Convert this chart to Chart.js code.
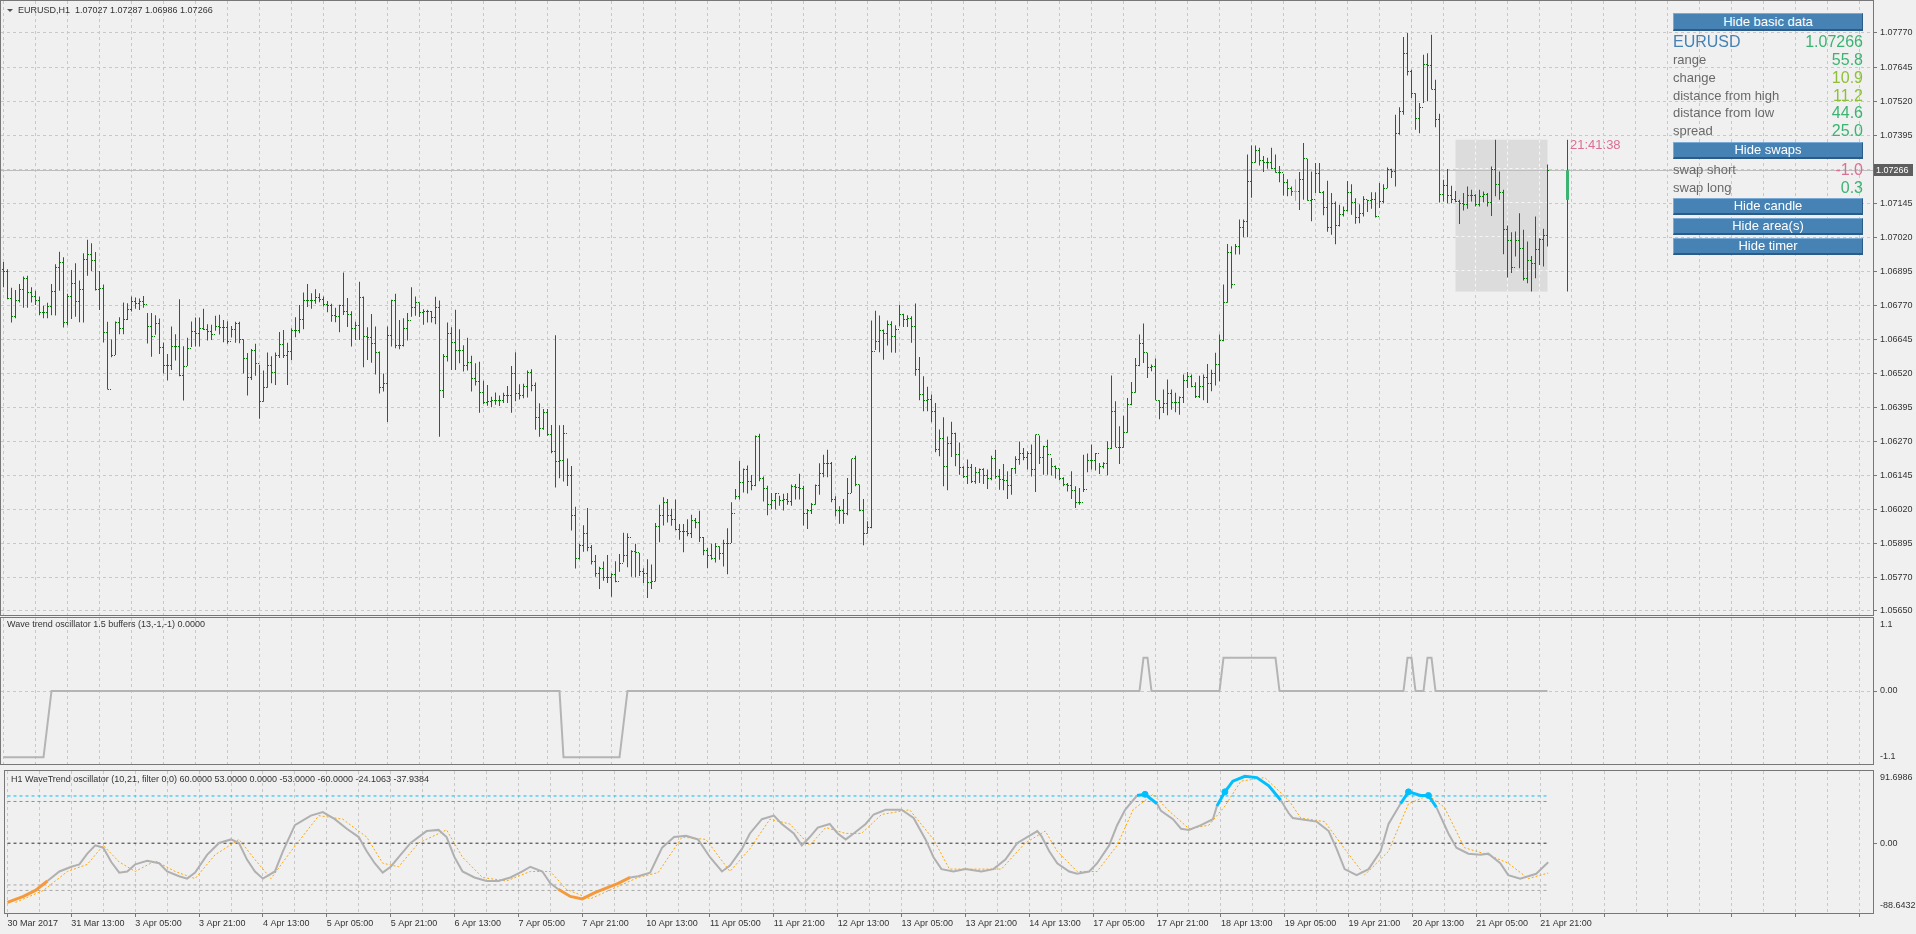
<!DOCTYPE html>
<html>
<head>
<meta charset="utf-8">
<script src="https://cdn.jsdelivr.net/npm/chart.js@4.4.1/dist/chart.umd.min.js"></script>
<style>
html, body { margin: 0; padding: 0; width: 1916px; height: 934px; overflow: hidden; background: #f0f0f0; font-family: 'Liberation Sans', Arial, sans-serif; }
canvas { position: absolute; left: 0; }
.btn { position: absolute; left: 1673px; width: 190px; box-sizing: border-box; background: #4682b4;
  border-top: 1px solid #7aaad6; border-left: 1px solid #7aaad6; border-right: 1px solid #2b5b86; border-bottom: 2px solid #2b5b86;
  color: #fff; font-size: 13px; text-align: center; }
.lbl { position: absolute; left: 1673px; height: 18px; line-height: 18px; font-size: 13px; color: #696969; white-space: nowrap; }
.val { position: absolute; right: 53px; height: 18px; line-height: 18px; font-size: 16px; white-space: nowrap; }
</style>
</head>
<body>
<canvas id="priceChart" width="1916" height="618" style="top:0px"></canvas>
<canvas id="stateChart" width="1916" height="150" style="top:617px"></canvas>
<canvas id="waveChart" width="1916" height="168" style="top:766px"></canvas>

<div class="btn" style="top:13px;height:18px;line-height:15px">Hide basic data</div>
<div class="lbl" style="top:33px;font-size:16px;color:#4682b4">EURUSD</div>
<div class="val" style="top:33px;color:#3cb371">1.07266</div>
<div class="lbl" style="top:51px">range</div>
<div class="val" style="top:51px;color:#3cb371">55.8</div>
<div class="lbl" style="top:69px">change</div>
<div class="val" style="top:69px;color:#8fbf3a">10.9</div>
<div class="lbl" style="top:87px">distance from high</div>
<div class="val" style="top:87px;color:#8fbf3a">11.2</div>
<div class="lbl" style="top:104px">distance from low</div>
<div class="val" style="top:104px;color:#3cb371">44.6</div>
<div class="lbl" style="top:122px">spread</div>
<div class="val" style="top:122px;color:#3cb371">25.0</div>
<div class="btn" style="top:142px;height:17px;line-height:14px">Hide swaps</div>
<div class="lbl" style="top:161px">swap short</div>
<div class="val" style="top:161px;color:#db7093">-1.0</div>
<div class="lbl" style="top:179px">swap long</div>
<div class="val" style="top:179px;color:#3cb371">0.3</div>
<div class="btn" style="top:198px;height:17px;line-height:14px">Hide candle</div>
<div class="btn" style="top:218px;height:17px;line-height:14px">Hide area(s)</div>
<div class="btn" style="top:238px;height:17px;line-height:14px">Hide timer</div>

<script>
// ---- price bars (H1) ----
const high = [
1.06929,1.06902,1.06834,1.06826,1.06848,1.06875,1.06878,1.06836,1.06823,1.06802,
1.06768,1.06779,1.06848,1.06920,1.06966,1.06946,1.06812,1.06899,1.06924,1.06861,
1.06961,1.07010,1.06998,1.06965,1.06896,1.06846,1.06709,1.06644,1.06710,1.06726,
1.06780,1.06777,1.06802,1.06798,1.06795,1.06804,1.06741,1.06741,1.06733,1.06721,
1.06633,1.06591,1.06692,1.06663,1.06792,1.06619,1.06650,1.06710,1.06725,1.06725,
1.06757,1.06700,1.06698,1.06731,1.06735,1.06716,1.06711,1.06694,1.06709,1.06709,
1.06645,1.06594,1.06609,1.06628,1.06551,1.06530,1.06596,1.06582,1.06596,1.06672,
1.06679,1.06632,1.06685,1.06726,1.06771,1.06817,1.06848,1.06814,1.06829,1.06814,
1.06802,1.06785,1.06775,1.06761,1.06772,1.06890,1.06796,1.06748,1.06709,1.06856,
1.06802,1.06689,1.06738,1.06692,1.06600,1.06519,1.06692,1.06790,1.06812,1.06716,
1.06722,1.06741,1.06836,1.06802,1.06780,1.06755,1.06753,1.06749,1.06801,1.06787,
1.06591,1.06706,1.06689,1.06753,1.06682,1.06623,1.06650,1.06584,1.06557,1.06562,
1.06492,1.06477,1.06434,1.06449,1.06438,1.06448,1.06473,1.06547,1.06597,1.06480,
1.06481,1.06530,1.06535,1.06486,1.06410,1.06389,1.06389,1.06330,1.06660,1.06329,
1.06330,1.06207,1.06179,1.06030,1.05894,1.05962,1.06025,1.05889,1.05852,1.05809,
1.05828,1.05852,1.05785,1.05829,1.05856,1.05934,1.05932,1.05870,1.05894,1.05860,
1.05804,1.05837,1.05817,1.05970,1.06037,1.06064,1.06058,1.06022,1.06056,1.05966,
1.05966,1.05984,1.06000,1.05988,1.06015,1.05918,1.05878,1.05894,1.05896,1.05884,
1.05908,1.05951,1.06046,1.06095,1.06199,1.06170,1.06181,1.06146,1.06291,1.06298,
1.06141,1.06107,1.06080,1.06080,1.06070,1.06077,1.06080,1.06111,1.06113,1.06151,
1.06107,1.06021,1.06043,1.06111,1.06189,1.06221,1.06239,1.06194,1.06068,1.06031,
1.06058,1.06135,1.06206,1.06217,1.06111,1.06058,1.05976,1.06714,1.06750,1.06732,
1.06681,1.06714,1.06711,1.06696,1.06772,1.06739,1.06733,1.06729,1.06776,1.06580,
1.06509,1.06470,1.06442,1.06411,1.06313,1.06358,1.06288,1.06342,1.06301,1.06266,
1.06178,1.06203,1.06187,1.06176,1.06170,1.06171,1.06166,1.06217,1.06239,1.06168,
1.06187,1.06160,1.06172,1.06215,1.06269,1.06245,1.06233,1.06258,1.06295,1.06291,
1.06254,1.06276,1.06209,1.06181,1.06170,1.06138,1.06117,1.06160,1.06105,1.06098,
1.06221,1.06225,1.06258,1.06227,1.06190,1.06193,1.06270,1.06512,1.06417,1.06325,
1.06364,1.06429,1.06488,1.06576,1.06662,1.06703,1.06595,1.06552,1.06574,1.06421,
1.06460,1.06497,1.06460,1.06448,1.06435,1.06515,1.06525,1.06515,1.06487,1.06511,
1.06515,1.06554,1.06533,1.06595,1.06662,1.06846,1.06995,1.06987,1.06995,1.07085,
1.07085,1.07324,1.07357,1.07357,1.07348,1.07318,1.07312,1.07348,1.07324,1.07281,
1.07253,1.07233,1.07206,1.07233,1.07259,1.07366,1.07308,1.07261,1.07292,1.07292,
1.07190,1.07227,1.07182,1.07151,1.07139,1.07133,1.07226,1.07214,1.07163,1.07141,
1.07170,1.07157,1.07185,1.07185,1.07219,1.07214,1.07276,1.07271,1.07470,1.07497,
1.07755,1.07770,1.07635,1.07549,1.07513,1.07690,1.07696,1.07764,1.07598,1.07473,
1.07231,1.07270,1.07209,1.07190,1.07157,1.07182,1.07206,1.07194,1.07178,1.07194,
1.07188,1.07182,1.07280,1.07378,1.07261,1.07194,1.07063,1.07038,1.07041,1.07108,
1.07047,1.07004,1.06951,1.07096,1.07016,1.07051,1.07287];

const low = [
1.06836,1.06792,1.06706,1.06722,1.06780,1.06761,1.06761,1.06780,1.06771,1.06733,
1.06722,1.06722,1.06733,1.06732,1.06823,1.06688,1.06696,1.06719,1.06728,1.06707,
1.06706,1.06878,1.06896,1.06824,1.06752,1.06633,1.06460,1.06579,1.06587,1.06663,
1.06663,1.06716,1.06747,1.06757,1.06752,1.06761,1.06629,1.06581,1.06661,1.06591,
1.06519,1.06493,1.06532,1.06567,1.06509,1.06420,1.06547,1.06616,1.06618,1.06618,
1.06679,1.06640,1.06642,1.06676,1.06662,1.06634,1.06628,1.06651,1.06632,1.06630,
1.06519,1.06438,1.06495,1.06511,1.06353,1.06415,1.06467,1.06483,1.06477,1.06576,
1.06576,1.06477,1.06568,1.06652,1.06667,1.06682,1.06763,1.06757,1.06775,1.06781,
1.06765,1.06744,1.06709,1.06707,1.06671,1.06734,1.06690,1.06618,1.06642,1.06642,
1.06542,1.06569,1.06559,1.06515,1.06446,1.06453,1.06341,1.06618,1.06612,1.06608,
1.06618,1.06640,1.06728,1.06731,1.06727,1.06698,1.06706,1.06706,1.06700,1.06287,
1.06429,1.06563,1.06532,1.06532,1.06557,1.06526,1.06530,1.06453,1.06475,1.06375,
1.06407,1.06401,1.06395,1.06404,1.06400,1.06411,1.06411,1.06375,1.06417,1.06424,
1.06428,1.06431,1.06454,1.06312,1.06287,1.06312,1.06290,1.06226,1.06100,1.06134,
1.06122,1.06106,1.05942,1.05803,1.05836,1.05864,1.05866,1.05817,1.05772,1.05727,
1.05758,1.05749,1.05699,1.05752,1.05791,1.05826,1.05807,1.05772,1.05770,1.05775,
1.05749,1.05694,1.05727,1.05755,1.05899,1.05961,1.05972,1.05960,1.05943,1.05908,
1.05862,1.05921,1.05915,1.05951,1.05900,1.05851,1.05804,1.05835,1.05825,1.05835,
1.05810,1.05782,1.05896,1.06056,1.06056,1.06082,1.06078,1.06090,1.06105,1.06123,
1.06049,1.05998,1.06021,1.06019,1.06033,1.06016,1.06037,1.06033,1.06056,1.06056,
1.05961,1.05948,1.06003,1.06037,1.06074,1.06138,1.06138,1.06046,1.05994,1.05967,
1.05967,1.05998,1.06080,1.06105,1.06013,1.05888,1.05930,1.05951,1.06605,1.06597,
1.06570,1.06622,1.06596,1.06595,1.06693,1.06690,1.06690,1.06632,1.06511,1.06421,
1.06380,1.06380,1.06340,1.06230,1.06215,1.06105,1.06090,1.06212,1.06178,1.06147,
1.06135,1.06113,1.06117,1.06114,1.06117,1.06113,1.06095,1.06127,1.06132,1.06092,
1.06090,1.06058,1.06074,1.06151,1.06184,1.06200,1.06166,1.06141,1.06084,1.06187,
1.06147,1.06147,1.06144,1.06133,1.06127,1.06105,1.06086,1.06058,1.06025,1.06037,
1.06084,1.06156,1.06166,1.06163,1.06150,1.06170,1.06145,1.06242,1.06248,1.06187,
1.06246,1.06301,1.06402,1.06448,1.06546,1.06558,1.06503,1.06527,1.06421,1.06351,
1.06374,1.06366,1.06386,1.06377,1.06368,1.06411,1.06466,1.06469,1.06429,1.06429,
1.06421,1.06411,1.06454,1.06475,1.06491,1.06638,1.06779,1.06831,1.06956,1.06956,
1.07020,1.07020,1.07165,1.07293,1.07283,1.07259,1.07271,1.07269,1.07257,1.07222,
1.07173,1.07170,1.07172,1.07154,1.07120,1.07157,1.07154,1.07078,1.07182,1.07182,
1.07100,1.07040,1.07029,1.06994,1.07059,1.07096,1.07114,1.07102,1.07069,1.07071,
1.07096,1.07112,1.07124,1.07092,1.07127,1.07145,1.07200,1.07237,1.07206,1.07396,
1.07470,1.07614,1.07531,1.07415,1.07402,1.07513,1.07519,1.07562,1.07424,1.07147,
1.07151,1.07145,1.07145,1.07148,1.07068,1.07118,1.07124,1.07151,1.07133,1.07133,
1.07148,1.07133,1.07098,1.07170,1.07157,1.06957,1.06872,1.06888,1.06949,1.06906,
1.06861,1.06851,1.06820,1.06869,1.06918,1.06912,1.06986];

const open = [
1.06900,1.06895,1.06793,1.06730,1.06786,1.06829,1.06867,1.06817,1.06802,1.06786,
1.06745,1.06745,1.06766,1.06820,1.06910,1.06928,1.06707,1.06803,1.06848,1.06782,
1.06829,1.06939,1.06956,1.06935,1.06829,1.06832,1.06671,1.06462,1.06585,1.06708,
1.06683,1.06719,1.06755,1.06782,1.06777,1.06783,1.06771,1.06693,1.06655,1.06704,
1.06616,1.06547,1.06547,1.06618,1.06618,1.06511,1.06545,1.06611,1.06674,1.06667,
1.06683,1.06681,1.06674,1.06662,1.06692,1.06689,1.06689,1.06635,1.06682,1.06704,
1.06644,1.06575,1.06504,1.06603,1.06554,1.06415,1.06469,1.06549,1.06524,1.06585,
1.06625,1.06584,1.06601,1.06676,1.06676,1.06719,1.06787,1.06787,1.06788,1.06797,
1.06790,1.06771,1.06770,1.06733,1.06728,1.06768,1.06748,1.06737,1.06683,1.06696,
1.06799,1.06654,1.06651,1.06630,1.06597,1.06466,1.06483,1.06657,1.06786,1.06623,
1.06623,1.06683,1.06714,1.06763,1.06780,1.06742,1.06747,1.06748,1.06726,1.06763,
1.06457,1.06580,1.06667,1.06633,1.06603,1.06603,1.06547,1.06558,1.06502,1.06489,
1.06450,1.06412,1.06416,1.06420,1.06421,1.06421,1.06438,1.06438,1.06520,1.06445,
1.06440,1.06473,1.06524,1.06475,1.06358,1.06318,1.06375,1.06295,1.06233,1.06195,
1.06201,1.06299,1.06146,1.05999,1.05840,1.05889,1.05932,1.05880,1.05828,1.05785,
1.05803,1.05770,1.05770,1.05782,1.05754,1.05820,1.05851,1.05918,1.05864,1.05863,
1.05790,1.05786,1.05752,1.05755,1.05957,1.05998,1.06046,1.05998,1.05984,1.05945,
1.05937,1.05937,1.05933,1.05978,1.05970,1.05918,1.05868,1.05850,1.05841,1.05882,
1.05856,1.05896,1.05896,1.06003,1.06068,1.06117,1.06168,1.06123,1.06108,1.06286,
1.06132,1.06098,1.06037,1.06053,1.06077,1.06052,1.06056,1.06050,1.06105,1.06101,
1.06098,1.06003,1.06015,1.06037,1.06106,1.06151,1.06190,1.06187,1.06056,1.06015,
1.06015,1.06003,1.06080,1.06205,1.06111,1.06015,1.05931,1.05955,1.06601,1.06635,
1.06677,1.06666,1.06699,1.06656,1.06679,1.06736,1.06717,1.06722,1.06690,1.06533,
1.06442,1.06421,1.06422,1.06378,1.06239,1.06282,1.06178,1.06261,1.06297,1.06223,
1.06172,1.06141,1.06174,1.06123,1.06157,1.06166,1.06145,1.06132,1.06205,1.06139,
1.06129,1.06125,1.06107,1.06170,1.06203,1.06227,1.06209,1.06225,1.06168,1.06295,
1.06209,1.06252,1.06221,1.06176,1.06170,1.06132,1.06111,1.06108,1.06090,1.06047,
1.06047,1.06092,1.06200,1.06200,1.06227,1.06176,1.06187,1.06242,1.06378,1.06248,
1.06249,1.06301,1.06405,1.06451,1.06548,1.06628,1.06597,1.06540,1.06543,1.06421,
1.06393,1.06408,1.06444,1.06411,1.06411,1.06432,1.06494,1.06509,1.06470,1.06435,
1.06472,1.06503,1.06484,1.06518,1.06552,1.06640,1.06779,1.06962,1.06845,1.06984,
1.07057,1.07079,1.07223,1.07293,1.07340,1.07302,1.07293,1.07293,1.07271,1.07257,
1.07257,1.07219,1.07200,1.07187,1.07187,1.07230,1.07308,1.07156,1.07157,1.07253,
1.07185,1.07130,1.07057,1.07143,1.07063,1.07102,1.07118,1.07185,1.07147,1.07094,
1.07106,1.07157,1.07154,1.07157,1.07096,1.07151,1.07200,1.07270,1.07261,1.07400,
1.07483,1.07696,1.07629,1.07549,1.07457,1.07498,1.07654,1.07651,1.07564,1.07451,
1.07178,1.07210,1.07172,1.07157,1.07151,1.07145,1.07139,1.07172,1.07172,1.07139,
1.07170,1.07178,1.07148,1.07268,1.07212,1.07185,1.07049,1.07007,1.06910,1.07008,
1.06980,1.06869,1.06934,1.06924,1.06973,1.07010,1.07027];

const close = [
1.06895,1.06793,1.06730,1.06786,1.06829,1.06867,1.06817,1.06802,1.06786,1.06745,
1.06745,1.06766,1.06820,1.06910,1.06928,1.06707,1.06803,1.06848,1.06782,1.06829,
1.06939,1.06956,1.06935,1.06829,1.06832,1.06671,1.06462,1.06585,1.06708,1.06683,
1.06719,1.06755,1.06782,1.06777,1.06783,1.06771,1.06693,1.06655,1.06704,1.06616,
1.06547,1.06547,1.06618,1.06618,1.06511,1.06545,1.06611,1.06674,1.06667,1.06683,
1.06681,1.06674,1.06662,1.06692,1.06689,1.06689,1.06635,1.06682,1.06704,1.06644,
1.06575,1.06504,1.06603,1.06554,1.06415,1.06469,1.06549,1.06524,1.06585,1.06625,
1.06584,1.06601,1.06676,1.06676,1.06719,1.06787,1.06787,1.06788,1.06797,1.06790,
1.06771,1.06770,1.06733,1.06728,1.06768,1.06748,1.06737,1.06683,1.06696,1.06799,
1.06654,1.06651,1.06630,1.06597,1.06466,1.06483,1.06657,1.06786,1.06623,1.06623,
1.06683,1.06714,1.06763,1.06780,1.06742,1.06747,1.06748,1.06726,1.06763,1.06457,
1.06580,1.06667,1.06633,1.06603,1.06603,1.06547,1.06558,1.06502,1.06489,1.06450,
1.06412,1.06416,1.06420,1.06421,1.06421,1.06438,1.06438,1.06520,1.06445,1.06440,
1.06473,1.06524,1.06475,1.06358,1.06318,1.06375,1.06295,1.06233,1.06195,1.06201,
1.06299,1.06146,1.05999,1.05840,1.05889,1.05932,1.05880,1.05828,1.05785,1.05803,
1.05770,1.05770,1.05782,1.05754,1.05820,1.05851,1.05918,1.05864,1.05863,1.05790,
1.05786,1.05752,1.05755,1.05957,1.05998,1.06046,1.05998,1.05984,1.05945,1.05937,
1.05937,1.05933,1.05978,1.05970,1.05918,1.05868,1.05850,1.05841,1.05882,1.05856,
1.05896,1.05896,1.06003,1.06068,1.06117,1.06168,1.06123,1.06108,1.06286,1.06132,
1.06098,1.06037,1.06053,1.06077,1.06052,1.06056,1.06050,1.06105,1.06101,1.06098,
1.06003,1.06015,1.06037,1.06106,1.06151,1.06190,1.06187,1.06056,1.06015,1.06015,
1.06003,1.06080,1.06205,1.06111,1.06015,1.05931,1.05955,1.06601,1.06635,1.06677,
1.06666,1.06699,1.06656,1.06679,1.06736,1.06717,1.06722,1.06690,1.06533,1.06442,
1.06421,1.06422,1.06378,1.06239,1.06282,1.06178,1.06261,1.06297,1.06223,1.06172,
1.06141,1.06174,1.06123,1.06157,1.06166,1.06145,1.06132,1.06205,1.06139,1.06129,
1.06125,1.06107,1.06170,1.06203,1.06227,1.06209,1.06225,1.06168,1.06295,1.06209,
1.06252,1.06221,1.06176,1.06170,1.06132,1.06111,1.06108,1.06090,1.06047,1.06047,
1.06092,1.06200,1.06200,1.06227,1.06176,1.06187,1.06242,1.06378,1.06248,1.06249,
1.06301,1.06405,1.06451,1.06548,1.06628,1.06597,1.06540,1.06543,1.06421,1.06393,
1.06408,1.06444,1.06411,1.06411,1.06432,1.06494,1.06509,1.06470,1.06435,1.06472,
1.06503,1.06484,1.06518,1.06552,1.06640,1.06779,1.06962,1.06845,1.06984,1.07057,
1.07079,1.07223,1.07293,1.07340,1.07302,1.07293,1.07293,1.07271,1.07257,1.07257,
1.07219,1.07200,1.07187,1.07187,1.07230,1.07308,1.07156,1.07157,1.07253,1.07185,
1.07130,1.07057,1.07143,1.07063,1.07102,1.07118,1.07185,1.07147,1.07094,1.07106,
1.07157,1.07154,1.07157,1.07096,1.07151,1.07200,1.07270,1.07261,1.07400,1.07483,
1.07696,1.07629,1.07549,1.07457,1.07498,1.07654,1.07651,1.07564,1.07451,1.07178,
1.07210,1.07172,1.07157,1.07151,1.07145,1.07139,1.07172,1.07172,1.07139,1.07170,
1.07178,1.07148,1.07268,1.07212,1.07185,1.07049,1.07007,1.06910,1.07008,1.06980,
1.06869,1.06934,1.06924,1.06973,1.07010,1.07027,1.07266];

const dojiBars = [323];

// current day (candle + area drawn by the info indicator)
const dayOpen = 1.07157, dayHigh = 1.07378, dayLow = 1.06820;
const dayFirstBar = 363, candleBar = 391;
const timerText = '21:41:38';

const priceTicks = [1.05650, 1.05770, 1.05895, 1.06020, 1.06145, 1.06270, 1.06395, 1.06520, 1.06645,
  1.06770, 1.06895, 1.07020, 1.07145, 1.07270, 1.07395, 1.07520, 1.07645, 1.07770];

const timeLabels = ['30 Mar 2017', '31 Mar 13:00', '3 Apr 05:00', '3 Apr 21:00', '4 Apr 13:00', '5 Apr 05:00',
  '5 Apr 21:00', '6 Apr 13:00', '7 Apr 05:00', '7 Apr 21:00', '10 Apr 13:00', '11 Apr 05:00', '11 Apr 21:00',
  '12 Apr 13:00', '13 Apr 05:00', '13 Apr 21:00', '14 Apr 13:00', '17 Apr 05:00', '17 Apr 21:00',
  '18 Apr 13:00', '19 Apr 05:00', '19 Apr 21:00', '20 Apr 13:00', '21 Apr 05:00', '21 Apr 21:00'];

// ---- "Wave trend oscillator 1.5 buffers" ----
const stateX = [0, 10, 12, 139, 140, 154, 156, 284, 285, 286, 287, 304, 305, 318, 319, 350, 351, 352, 353, 355, 356, 357, 358, 386];
const stateY = [-1, -1, 0, 0, -1, -1, 0, 0, 0.5, 0.5, 0, 0, 0.5, 0.5, 0, 0, 0.5, 0.5, 0, 0, 0.5, 0.5, 0, 0];

// ---- WaveTrend oscillator ----
const wtX = [0,4,7,10,13,16,18,20,22,24,26,28,30,32,35,38,40,43,45,47,50,53,56,58,60,62,64,67,69,72,76,79,82,85,88,90,92,94,96,98,
  101,105,108,110,112,114,117,120,123,126,129,131,134,136,138,141,144,147,150,153,156,158,161,164,167,170,173,176,179,181,184,186,189,
  192,194,197,199,201,203,206,208,210,212,215,217,220,224,227,230,232,234,237,240,244,247,250,253,256,258,259,261,263,266,268,271,273,
  276,278,280,283,285,288,289,292,294,296,299,302,303,305,307,310,313,316,319,321,322,324,328,331,333,335,338,341,344,346,349,351,354,
  356,358,361,363,366,369,371,374,376,379,383,386];
const wtVal = [-75.2,-67.6,-60.0,-48.0,-35.9,-29.9,-26.9,-13.3,-2.8,-5.7,-23.9,-37.4,-35.9,-26.9,-22.4,-25.4,-35.9,-42.0,-45.0,-37.4,
  -14.8,0.3,4.8,0.3,-20.8,-35.9,-45.0,-35.9,-10.3,22.9,35.0,39.5,30.5,18.4,7.8,-10.3,-25.4,-37.4,-29.9,-17.8,
  0.3,15.4,16.9,7.8,-17.8,-35.9,-43.5,-48.0,-48.0,-43.5,-35.9,-29.9,-35.9,-51.0,-58.5,-67.6,-70.7,-63.1,-57.1,-51.0,
  -43.5,-42.0,-37.4,-5.7,7.8,9.4,4.8,-17.8,-35.9,-28.4,-7.2,12.4,30.5,35.0,24.4,12.4,-2.8,7.8,19.9,24.4,
  12.4,4.8,12.4,24.4,36.5,42.5,42.5,32.0,4.8,-17.8,-32.9,-35.9,-32.9,-35.9,-32.9,-20.8,0.3,9.4,15.4,9.4,
  -10.3,-25.4,-35.9,-38.9,-35.9,-25.4,-2.8,22.9,42.5,60.6,62.1,50.1,41.0,30.5,18.4,16.9,22.9,30.5,47.1,65.2,
  78.8,84.9,83.3,72.8,54.6,38.0,32.0,30.5,27.4,15.4,-7.2,-32.9,-40.5,-32.9,-10.3,24.4,50.1,65.2,60.6,60.6,
  45.6,12.4,-5.7,-13.3,-14.8,-13.3,-25.4,-40.5,-45.0,-38.9,-24.1];
const sigX = [2,9,15,20,24,28,32,37,42,47,52,58,62,66,71,78,84,90,94,98,103,110,114,119,125,131,136,140,146,152,158,163,169,175,
  181,186,191,196,201,205,210,214,219,226,232,236,242,249,255,260,263,268,273,278,282,287,291,296,301,305,309,315,321,324,330,335,
  340,346,351,356,360,365,371,376,381,386];
const sigVal = [-75.2,-60.0,-35.9,-26.9,-2.8,-23.9,-35.9,-22.4,-35.9,-45.0,-14.8,4.8,-20.8,-45.0,-10.3,35.0,30.5,7.8,-25.4,-29.9,
  0.3,16.9,-17.8,-43.5,-48.0,-35.9,-35.9,-58.5,-70.7,-57.1,-43.5,-37.4,7.8,4.8,-35.9,-7.2,30.5,24.4,-2.8,19.9,
  12.4,12.4,36.5,42.5,4.8,-32.9,-32.9,-32.9,0.3,15.4,-10.3,-35.9,-35.9,-2.8,42.5,62.1,41.0,18.4,22.9,47.1,
  78.8,83.3,54.6,32.0,27.4,-7.2,-40.5,-10.3,50.1,60.6,45.6,-5.7,-14.8,-25.4,-45.0,-37.9];
const crossX = [285, 305, 351, 356];
const crossVal = [62.1, 65.2, 65.2, 60.6];
const blueRanges = [[284, 288], [304, 319], [350, 354], [355, 358]];
const orangeRanges = [[0, 11], [139, 156]];
const levels = [60, 53, 0, -53, -60];

// ---- styling ----
const FONT = "'Liberation Sans', Arial, sans-serif";
const GRID = '#c8c8c8';
const FRAME = '#777777';
const TEXT = '#333333';
const BAR_UP = '#008000';
const DOJI = '#a8a8a8';
const X_MIN = -0.625, X_MAX = 467.375;
const P_MAX = 1.0788756, P_MIN = 1.0563187;

Chart.defaults.font.family = FONT;
Chart.defaults.animation = false;
Chart.defaults.events = [];
Chart.defaults.plugins.legend.display = false;
Chart.defaults.plugins.tooltip.enabled = false;

function noPadding(s) {
  s.paddingLeft = 0; s.paddingRight = 0; s.paddingTop = 0; s.paddingBottom = 0;
}

function timeScale(withLabels) {
  return {
    type: 'linear', min: X_MIN, max: X_MAX, offset: false,
    afterBuildTicks: s => {
      const t = [];
      for (let v = 0; v <= X_MAX; v += 8) t.push({value: v});
      s.ticks = t;
    },
    afterFit: s => { s.height = withLabels ? 21 : 0; noPadding(s); },
    border: {display: false, dash: [3, 3]},
    grid: {
      offset: false, color: GRID, lineWidth: 1, drawTicks: withLabels, tickLength: 4,
      tickColor: c => (c.tick && c.tick.value % 16 === 0) ? FRAME : 'rgba(0,0,0,0)'
    },
    ticks: {
      display: withLabels, autoSkip: false, maxRotation: 0, minRotation: 0,
      align: 'start', labelOffset: 0, padding: 1, color: TEXT, font: {size: 9},
      callback: v => (v % 16 === 0 && v / 16 < timeLabels.length) ? timeLabels[v / 16] : ''
    }
  };
}

function sideScale(min, max, ticks, labelFn, gridColor) {
  return {
    position: 'right', min: min, max: max,
    afterBuildTicks: s => { s.ticks = ticks.map(v => ({value: v})); },
    afterFit: s => { s.width = 43; noPadding(s); },
    border: {display: false, dash: [3, 3]},
    grid: {color: gridColor, tickLength: 4, tickColor: FRAME},
    ticks: {padding: 3, color: TEXT, font: {size: 9}, callback: labelFn}
  };
}

const framePlugin = {
  id: 'frame',
  afterDraw(chart) {
    const {ctx, chartArea: a} = chart;
    ctx.save();
    ctx.strokeStyle = FRAME;
    ctx.lineWidth = 1;
    ctx.strokeRect(a.left - 0.5, a.top - 0.5, a.right - a.left + 1, a.bottom - a.top + 1);
    ctx.restore();
  }
};

const titlePlugin = {
  id: 'panelTitle',
  afterDraw(chart, args, opts) {
    const {ctx, chartArea: a} = chart;
    ctx.save();
    ctx.font = '9px ' + FONT;
    ctx.fillStyle = TEXT;
    ctx.textBaseline = 'middle';
    ctx.textAlign = 'left';
    ctx.fillText(opts.text, a.left + opts.dx, a.top + opts.dy);
    if (opts.arrow) {
      ctx.fillStyle = '#505050';
      ctx.beginPath();
      ctx.moveTo(a.left + 6, a.top + 8);
      ctx.lineTo(a.left + 12, a.top + 8);
      ctx.lineTo(a.left + 9, a.top + 11);
      ctx.closePath();
      ctx.fill();
    }
    if (opts.top) {
      ctx.fillStyle = TEXT;
      ctx.fillText(opts.top, a.right + 7, a.top + 7);
      ctx.fillText(opts.bottom, a.right + 7, a.bottom - 7);
    }
    ctx.restore();
  }
};

const priceMarks = {
  id: 'priceMarks',
  beforeDatasetsDraw(chart) {
    const {ctx, chartArea: a, scales: {x, y}} = chart;
    const last = close[close.length - 1];
    // today's area
    const x0 = x.getPixelForValue(dayFirstBar), x1 = x.getPixelForValue(close.length - 1);
    const y0 = y.getPixelForValue(dayHigh), y1 = y.getPixelForValue(dayLow);
    ctx.save();
    ctx.fillStyle = '#dcdcdc';
    ctx.fillRect(x0, y0, x1 - x0, y1 - y0);
    ctx.strokeStyle = '#f6f6f6';
    ctx.setLineDash([3, 3]);
    ctx.beginPath();
    for (let v = 0; v <= X_MAX; v += 8) {
      const px = Math.round(x.getPixelForValue(v)) - 0.5;
      if (px > x0 && px < x1) { ctx.moveTo(px, y0); ctx.lineTo(px, y1); }
    }
    priceTicks.forEach(p => {
      const py = Math.round(y.getPixelForValue(p)) - 0.5;
      if (py > y0 && py < y1) { ctx.moveTo(x0, py); ctx.lineTo(x1, py); }
    });
    ctx.stroke();
    // current price line
    ctx.setLineDash([]);
    ctx.strokeStyle = '#bdbdbd';
    const py = Math.round(y.getPixelForValue(last)) + 0.5;
    ctx.beginPath();
    ctx.moveTo(a.left, py);
    ctx.lineTo(a.right, py);
    ctx.stroke();
    ctx.restore();
  },
  afterDatasetsDraw(chart) {
    const {ctx, scales: {x, y}} = chart;
    ctx.save();
    for (let i = 0; i < close.length; i++) {
      const px = Math.floor(x.getPixelForValue(i));
      ctx.fillStyle = dojiBars.includes(i) ? DOJI : BAR_UP;
      ctx.fillRect(px - 1, Math.floor(y.getPixelForValue(open[i])), 1, 1);
      ctx.fillRect(px + 1, Math.floor(y.getPixelForValue(close[i])), 1, 1);
    }
    ctx.restore();
  },
  afterDraw(chart) {
    const {ctx, chartArea: a, scales: {x, y}} = chart;
    const last = close[close.length - 1];
    const py = y.getPixelForValue(last);
    ctx.save();
    ctx.fillStyle = '#5e5e5e';
    ctx.fillRect(a.right + 1, Math.round(py) - 6, 39, 12);
    ctx.fillStyle = '#ffffff';
    ctx.font = '9px ' + FONT;
    ctx.textBaseline = 'middle';
    ctx.fillText(last.toFixed(5), a.right + 3, Math.round(py) + 0.5);
    ctx.fillStyle = '#db7093';
    ctx.font = '13px ' + FONT;
    ctx.fillText(timerText, x.getPixelForValue(candleBar) + 2.5, y.getPixelForValue(dayHigh) + 6);
    ctx.restore();
  }
};

const barIdx = close.map((c, i) => i);
const last = close.length - 1;

new Chart(document.getElementById('priceChart'), {
  type: 'bar',
  data: {
    datasets: [
      {
        data: barIdx.map(i => ({x: i, y: [low[i], high[i]]})),
        backgroundColor: barIdx.map(i => dojiBars.includes(i) ? DOJI : BAR_UP),
        barThickness: 1, inflateAmount: 0, grouped: false, borderWidth: 0
      },
      {
        data: [{x: candleBar, y: [dayOpen, close[last]]}],
        backgroundColor: '#3cb371', barThickness: 3, inflateAmount: 0, grouped: false, borderWidth: 0
      },
      {
        data: [{x: candleBar, y: [dayLow, dayHigh]}],
        backgroundColor: BAR_UP, barThickness: 1, inflateAmount: 0, grouped: false, borderWidth: 0
      }
    ]
  },
  options: {
    responsive: false,
    layout: {padding: {left: 1, top: 1, right: 0, bottom: 3}},
    scales: {
      x: timeScale(false),
      y: sideScale(P_MIN, P_MAX, priceTicks, v => Math.abs(v - 1.0727) < 1e-7 ? '' : v.toFixed(5), GRID)
    },
    plugins: {
      panelTitle: {
        text: 'EURUSD,H1  ' + [open[last], high[last], low[last], close[last]].map(v => v.toFixed(5)).join(' '),
        dx: 17, dy: 10, arrow: true
      }
    }
  },
  plugins: [priceMarks, framePlugin, titlePlugin]
});

new Chart(document.getElementById('stateChart'), {
  type: 'line',
  data: {
    datasets: [{
      data: stateX.map((v, k) => ({x: v, y: stateY[k]})),
      borderColor: '#b4b4b4', borderWidth: 2, pointRadius: 0, tension: 0
    }]
  },
  options: {
    responsive: false,
    layout: {padding: {left: 1, top: 1, right: 0, bottom: 3}},
    scales: {
      x: timeScale(false),
      y: sideScale(-1.1, 1.1, [0], () => '0.00', GRID)
    },
    plugins: {
      panelTitle: {text: 'Wave trend oscillator 1.5 buffers (13,-1,-1) 0.0000', dx: 6, dy: 7, top: '1.1', bottom: '-1.1'}
    }
  },
  plugins: [framePlugin, titlePlugin]
});

const inRanges = (ranges, v) => ranges.some(r => v >= r[0] && v <= r[1]);
const levelStyle = {60: '#00bfff', 53: '#00bfff', 0: '#303030', '-53': '#a8a8a8', '-60': '#a8a8a8'};

new Chart(document.getElementById('waveChart'), {
  type: 'line',
  data: {
    datasets: [
      {
        type: 'scatter',
        data: crossX.map((v, k) => ({x: v, y: crossVal[k]})),
        backgroundColor: '#00bfff', borderColor: '#00bfff', pointRadius: 3, showLine: false
      },
      {
        data: wtX.map((v, k) => ({x: v, y: wtVal[k]})),
        borderColor: '#b0b0b0', borderWidth: 2, pointRadius: 0, tension: 0,
        segment: {
          borderColor: c => {
            const m = (c.p0.parsed.x + c.p1.parsed.x) / 2;
            return inRanges(blueRanges, m) ? '#00bfff' : inRanges(orangeRanges, m) ? '#f59a3c' : '#b0b0b0';
          },
          borderWidth: c => {
            const m = (c.p0.parsed.x + c.p1.parsed.x) / 2;
            return (inRanges(blueRanges, m) || inRanges(orangeRanges, m)) ? 3 : 2;
          }
        }
      },
      {
        data: sigX.map((v, k) => ({x: v, y: sigVal[k]})),
        borderColor: '#ffa500', borderWidth: 1, borderDash: [2, 2], pointRadius: 0, tension: 0
      },
      ...levels.map(l => ({
        data: [{x: 0, y: l}, {x: last, y: l}],
        borderColor: levelStyle[l], borderWidth: 1, borderDash: [3, 3], pointRadius: 0
      }))
    ]
  },
  options: {
    responsive: false,
    layout: {padding: {left: 1, top: 1, right: 0, bottom: 0}},
    scales: {
      x: timeScale(true),
      y: sideScale(-88.6432, 91.6986, [0], () => '0.00', 'rgba(0,0,0,0)')
    },
    plugins: {
      panelTitle: {
        text: 'H1 WaveTrend oscillator (10,21, filter 0,0) 60.0000 53.0000 0.0000 -53.0000 -60.0000 -24.1063 -37.9384',
        dx: 6, dy: 9, top: '91.6986', bottom: '-88.6432'
      }
    }
  },
  plugins: [framePlugin, titlePlugin]
});
</script>
</body>
</html>
